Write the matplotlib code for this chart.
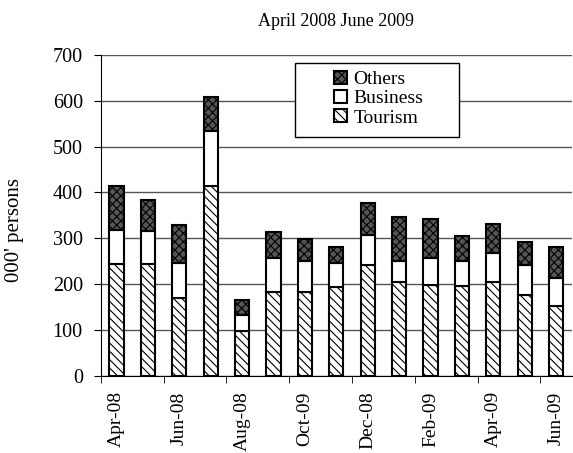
import matplotlib
matplotlib.use("Agg")
import matplotlib.pyplot as plt
from matplotlib.patches import Rectangle
import numpy as np

plt.rcParams["font.family"] = ["Liberation Serif", "DejaVu Serif"]
plt.rcParams["hatch.linewidth"] = 0.8

months = ["Apr-08", "May-08", "Jun-08", "Jul-08", "Aug-08", "Sep-08", "Oct-09",
          "Nov-08", "Dec-08", "Jan-09", "Feb-09", "Mar-09", "Apr-09", "May-09", "Jun-09"]
tourism = [243, 243, 170, 413, 99, 184, 184, 194, 242, 205, 199, 197, 205, 177, 152]
business = [76, 73, 76, 121, 33, 74, 66, 52, 66, 45, 59, 53, 62, 64, 61]
others = [94, 68, 84, 73, 34, 56, 48, 35, 68, 97, 85, 56, 64, 52, 68]

x = np.arange(len(months))
w = 0.45
tourism = np.array(tourism)
business = np.array(business)
others = np.array(others)

fig, ax = plt.subplots(figsize=(5.73, 4.53), dpi=100)
fig.subplots_adjust(left=0.176, right=0.998, bottom=0.17, top=0.879)

b1 = ax.bar(x, tourism, w, color="white", edgecolor="black", linewidth=1.5,
            hatch="\\\\\\\\", label="Tourism", zorder=3)
b2 = ax.bar(x, business, w, bottom=tourism, color="white", edgecolor="black",
            linewidth=1.5, label="Business", zorder=3)
b3 = ax.bar(x, others, w, bottom=tourism + business, color="#555555",
            edgecolor="black", linewidth=1.5, hatch="xxxx", label="Others", zorder=3)

ax.set_xlim(-0.5, len(months) - 0.5)
ax.set_ylim(0, 700)
ax.set_yticks(range(0, 701, 100))
ax.yaxis.grid(True, color="#555555", linewidth=1.0, zorder=0)
ax.set_axisbelow(True)

ax.set_xticks(x[::2])
ax.set_xticklabels(months[::2], rotation=90, fontsize=14)
ax.tick_params(axis="x", length=0, pad=11)
ax.set_xticks(np.arange(-0.5, len(months) - 1, 2), minor=True)
ax.tick_params(axis="x", which="minor", length=5, direction="out")
ax.tick_params(axis="y", labelsize=14.5, length=5, direction="out", pad=8)

for s in ["top", "right"]:
    ax.spines[s].set_visible(False)

ax.set_ylabel("000' persons", fontsize=15)
ax.yaxis.set_label_coords(-0.163, 0.455)
ax.set_title("April 2008 June 2009", fontsize=13, pad=21)

# legend box drawn separately so it can be wider than the entries
ax.add_patch(Rectangle((0.412, 0.745), 0.348, 0.23, transform=ax.transAxes,
                       facecolor="white", edgecolor="black", linewidth=1.0,
                       zorder=4, clip_on=False))
leg = ax.legend(handles=[b3, b2, b1], loc="upper left", bbox_to_anchor=(0.495, 0.95),
                fontsize=14, frameon=False, handlelength=0.65, handleheight=0.65,
                handletextpad=0.35, borderpad=0, labelspacing=0.1, borderaxespad=0)
leg.set_zorder(5)

fig.savefig("out.png", dpi=100)
